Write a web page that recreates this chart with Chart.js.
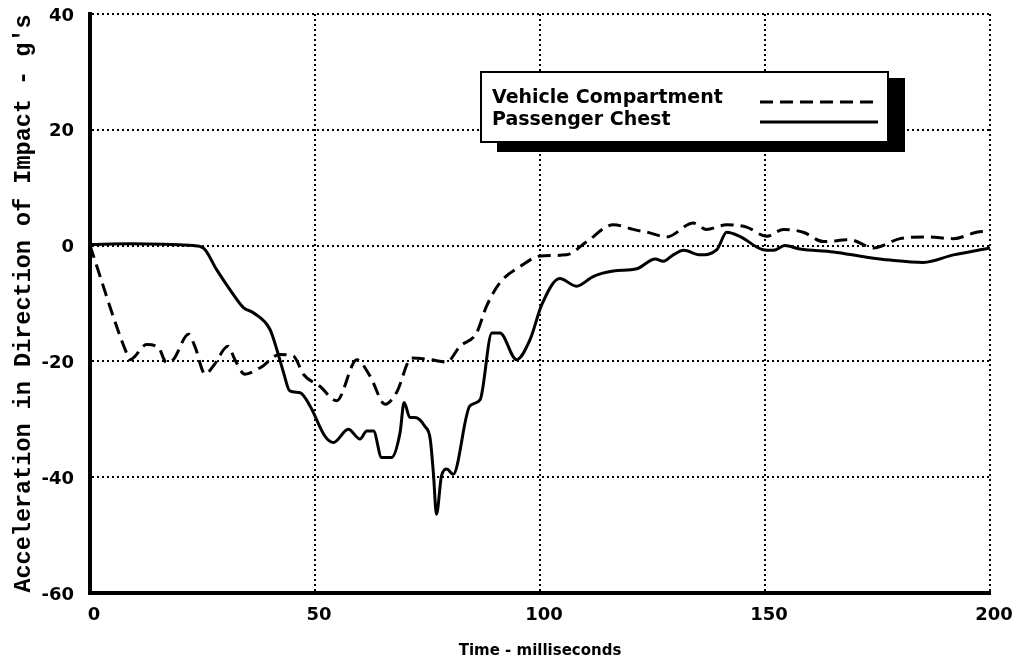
<!DOCTYPE html>
<html>
<head>
<meta charset="utf-8">
<script src="https://cdn.jsdelivr.net/npm/chart.js@4"></script>
<style>
  html, body { margin: 0; padding: 0; background: #fff; }
  #wrap { width: 1019px; height: 667px; }
</style>
</head>
<body>
<div id="wrap"><canvas id="myChart"></canvas></div>
<script>
// Time in ms, acceleration in g's
const seriesNames = ['Vehicle Compartment', 'Passenger Chest'];

const vehicleTime = [0, 8.1, 8.9, 12.6, 15.2, 17, 18.5, 21.9, 23.3, 25.6, 27.4, 30.7, 32.2, 34.4, 37.8,
  42.2, 45.2, 47.5, 51.1, 54.8, 59.3, 62.2, 65.6, 68.1, 71.5, 75.6, 79.3, 82.2, 85.9, 88.1, 91.1,
  95.6, 100, 105.9, 110.4, 116.3, 120.7, 124.4, 128.1, 134.1, 137, 141.5, 145.9, 150.4, 154.1,
  158.5, 163, 168.9, 174.1, 180, 185.9, 191.9, 197, 200];
const vehicleAccel = [0, -18.5, -19.7, -17.1, -17.6, -20.2, -19.7, -15.3, -17.4, -22.2, -20.8, -17.4, -19.7, -22.2, -21.1,
  -18.8, -19.1, -22.3, -24.3, -26.8, -19.7, -22.5, -27.4, -25.4, -19.4, -19.7, -20.1, -17.4, -15.1, -10.5, -6.4,
  -3.6, -1.8, -1.6, 0.7, 3.6, 2.8, 2.2, 1.5, 3.9, 2.8, 3.6, 3.2, 1.6, 2.8,
  2.3, 0.7, 1.0, -0.4, 1.2, 1.5, 1.2, 2.3, 2.5];

const chestTime = [0, 8.9, 23, 25.2, 28.1, 31.1, 34.1, 36.3, 40, 41.5, 43, 44.4, 46.7, 48.9, 52.2, 54.1,
  57.4, 60, 61.5, 63, 64.8, 67, 68.9, 69.8, 71.1, 72.2, 74.4, 75.6, 76.3, 77, 78.1, 79.3, 80.7,
  84.4, 86.7, 89.3, 91.1, 94.8, 97.8, 100.4, 104.4, 108.1, 111.9, 116.3, 121.5, 125.6, 127.4,
  129.6, 131.9, 135.6, 139.3, 141.5, 144.4, 149.6, 151.9, 154.4, 157.8, 165.2, 172.6, 177.8,
  185.2, 191.9, 200];
const chestAccel = [0.2, 0.3, 0, -0.4, -4.1, -7.6, -10.7, -11.6, -14.5, -17.9, -21.9, -25.1, -25.4, -27.7, -32.9, -34.0,
  -31.7, -33.4, -32.0, -32.0, -36.6, -36.6, -32.3, -27.1, -29.7, -29.7, -31.2, -33.4, -39.2, -46.4, -39.8, -38.6, -39.5,
  -27.7, -26.6, -15.1, -15.1, -19.7, -16.2, -10.2, -5.7, -7.0, -5.3, -4.4, -4.0, -2.3, -2.7,
  -1.6, -0.8, -1.6, -0.7, 2.3, 1.6, -0.7, -0.8, 0, -0.6, -1.1, -2.0, -2.5,
  -2.9, -1.6, -0.4];

const xTicks = [0, 50, 100, 150, 200];
const yTicks = [-60, -40, -20, 0, 20, 40];

const tickFont = { family: '"DejaVu Sans", sans-serif', size: 18, weight: 'bold' };

// legend drawn as a boxed panel with a drop shadow
const boxLegend = {
  id: 'boxLegend',
  afterDraw(chart) {
    const ctx = chart.ctx;
    ctx.save();
    ctx.fillStyle = '#000';
    ctx.fillRect(497, 78, 408, 74);
    ctx.fillStyle = '#fff';
    ctx.fillRect(481, 72, 407, 70);
    ctx.lineWidth = 2;
    ctx.strokeStyle = '#000';
    ctx.strokeRect(481, 72, 407, 70);
    ctx.font = 'bold 19px "DejaVu Sans", sans-serif';
    ctx.fillStyle = '#000';
    chart.data.datasets.forEach((ds, i) => {
      const y = 103 + i * 22;
      ctx.setLineDash([]);
      ctx.fillText(ds.label, 492, y);
      ctx.setLineDash(ds.borderDash || []);
      ctx.lineWidth = 3;
      ctx.beginPath();
      ctx.moveTo(760, y - 1 - i * 2);
      ctx.lineTo(878, y - 1 - i * 2);
      ctx.stroke();
    });
    ctx.restore();
  }
};

const toPoints = (xs, ys) => xs.map((x, i) => ({ x: x, y: ys[i] }));

new Chart(document.getElementById('myChart'), {
  type: 'line',
  data: {
    datasets: [
      {
        label: seriesNames[0],
        data: toPoints(vehicleTime, vehicleAccel),
        borderColor: '#000',
        borderWidth: 3,
        borderDash: [13, 7],
        pointRadius: 0,
        cubicInterpolationMode: 'monotone',
        fill: false
      },
      {
        label: seriesNames[1],
        data: toPoints(chestTime, chestAccel),
        borderColor: '#000',
        borderWidth: 3,
        pointRadius: 0,
        cubicInterpolationMode: 'monotone',
        fill: false
      }
    ]
  },
  options: {
    responsive: true,
    maintainAspectRatio: false,
    animation: false,
    devicePixelRatio: 1,
    layout: { padding: { top: 14, right: 29, left: 0, bottom: 0 } },
    plugins: { legend: { display: false }, tooltip: { enabled: false } },
    scales: {
      x: {
        type: 'linear',
        min: 0,
        max: 200,
        afterBuildTicks: s => { s.ticks = xTicks.map(v => ({ value: v })); },
        afterFit: s => { s.height = 74; s.paddingLeft = 0; s.paddingRight = 0; },
        grid: { color: '#000', lineWidth: 2, drawTicks: false },
        border: { display: true, color: '#000', width: 4, dash: [2, 3] },
        ticks: {
          color: '#000',
          padding: 12,
          labelOffset: 4,
          maxRotation: 0,
          font: tickFont
        },
        title: {
          display: true,
          text: 'Time - milliseconds',
          color: '#000',
          padding: { top: 0, bottom: 7 },
          font: { family: '"DejaVu Sans", sans-serif', size: 15, weight: 'bold' }
        }
      },
      y: {
        min: -60,
        max: 40,
        afterBuildTicks: s => { s.ticks = yTicks.map(v => ({ value: v })); },
        afterFit: s => { s.width = 90; s.paddingTop = 0; s.paddingBottom = 0; },
        grid: { color: '#000', lineWidth: 2, drawTicks: false },
        border: { display: true, color: '#000', width: 4, dash: [2, 3] },
        ticks: {
          color: '#000',
          padding: 16,
          labelOffset: 2,
          font: tickFont
        },
        title: {
          display: true,
          text: "Acceleration in Direction of Impact - g's",
          color: '#000',
          padding: { top: 10, bottom: 0 },
          font: { family: '"Liberation Mono", "Courier New", monospace', size: 23.5, weight: 'bold' }
        }
      }
    }
  },
  plugins: [boxLegend]
});
</script>
</body>
</html>
